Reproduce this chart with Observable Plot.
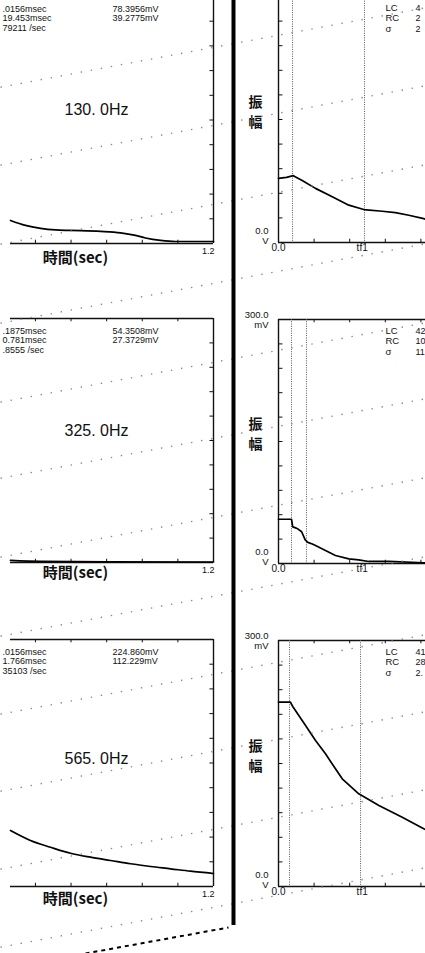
<!DOCTYPE html>
<html><head><meta charset="utf-8">
<script src="https://cdn.jsdelivr.net/npm/d3@7"></script>
<script src="https://cdn.jsdelivr.net/npm/@observablehq/plot@0.6"></script>
<style>
html,body{margin:0;padding:0;background:#fff;}
#page{position:relative;width:425px;height:953px;overflow:hidden;background:#fff;}
#page svg{position:absolute;max-width:none;}
</style></head><body><div id="page"></div>
<script>
// ---------- data ----------
const freqLabels = ["130. 0Hz", "325. 0Hz", "565. 0Hz"];
const paramTimes = [
  [".0156msec", "19.453msec", "79211 /sec"],
  [".1875msec", "0.781msec", ".8555 /sec"],
  [".0156msec", "1.766msec", "35103 /sec"]
];
const paramVolts = [
  ["78.3956mV", "39.2775mV"],
  ["54.3508mV", "27.3729mV"],
  ["224.860mV", "112.229mV"]
];
const statNames = ["LC", "RC", "σ"];
const statValues = [["4", "2", "2"], ["42", "10", "11"], ["41", "28", "2."]];
const timeAxisTitle = "時間(sec)";
const ampAxisTitleChars = ["振", "幅"];
const leftEndTick = [1.2];
const leftXTicks = [0.2, 0.4, 0.6, 0.8, 1.0];
const rightXTicks = [0.2, 0.4, 0.6, 0.8];
const ampTicks = [30, 60, 90, 120, 150, 180, 210, 240, 270];
const rightXLabelValues = [0, 0.47];
const rightXLabelTexts = ["0.0", "tf1"];
const ampTopLabel = "300.0\nmV";
const ampZeroLabel = "0.0\nV";

// left panels: amplitude (mV) vs time
const l130Time = [0.06, 0.144, 0.229, 0.313, 0.397, 0.566, 0.678, 0.762, 0.818, 0.903, 0.987, 1.2];
const l130Amp  = [28, 22, 18.4, 16.5, 15.9, 14.7, 12.9, 9.8, 6.7, 3.7, 2.4, 2.4];
const l325Time = [0.06, 0.229, 0.6, 1.2];
const l325Amp  = [2.5, 1.3, 0.9, 0.6];
const l565Time = [0.06, 0.172, 0.285, 0.397, 0.509, 0.622, 0.734, 0.847, 0.959, 1.071, 1.184, 1.2];
const l565Amp  = [68, 55.9, 47.7, 40.4, 35.6, 31.6, 27.6, 24.3, 21.5, 18.6, 16.2, 15.8];
// right panels
const r130Time = [0, 0.045, 0.083, 0.133, 0.208, 0.302, 0.395, 0.479, 0.583, 0.657, 0.732, 0.816, 0.826];
const r130Amp  = [78.3, 79.5, 81.5, 75.6, 66, 55.7, 45.5, 40.2, 38.1, 36.5, 33.2, 29.1, 28.3];
const r325Time = [0, 0.073, 0.08, 0.1, 0.112, 0.13, 0.15, 0.165, 0.19, 0.208, 0.264, 0.32, 0.395, 0.45, 0.507, 0.62, 0.815, 0.826];
const r325Amp  = [54.4, 54.4, 45, 43.5, 42, 39, 29, 26, 24, 22.1, 16, 9.8, 5.7, 4.5, 2.5, 2.5, 0.9, 0.8];
const r565Time = [0, 0.067, 0.08, 0.114, 0.152, 0.208, 0.264, 0.32, 0.358, 0.451, 0.564, 0.695, 0.816, 0.826];
const r565Amp  = [224.9, 224.9, 219.5, 208.5, 196.3, 178, 161.8, 143.5, 131.3, 113, 98.8, 84.5, 70.4, 69.5];
const cursorTimes = [[0.079, 0.483], [0.073, 0.157], [0.062, 0.461]];
// scan guide lines (dotted, page space): intercepts at x=20
const guideIntercepts = [83, 161, 240, 319, 398, 474, 553, 632, 710, 787, 865, 943];

// ---------- layout ----------
const page = document.getElementById("page");
const font = "'Liberation Sans Narrow','Liberation Sans',sans-serif";
const leftTops = [-4, 318, 639], leftBases = [243, 562, 886];
const rightTops = [-4, 319, 640], rightBases = [242, 563, 886];
const leftCurves = [[l130Time, l130Amp], [l325Time, l325Amp], [l565Time, l565Amp]]
  .map(([t, a]) => t.map((x, i) => ({t: x, v: a[i]})));
const rightCurves = [[r130Time, r130Amp], [r325Time, r325Amp], [r565Time, r565Amp]]
  .map(([t, a]) => t.map((x, i) => ({t: x, v: a[i]})));
const ink = "#111";

function place(svg, left, top) {
  svg.style.left = left + "px";
  svg.style.top = top + "px";
  page.appendChild(svg);
}

for (let i = 0; i < 3; i++) {
  const mt = 40, mb = 40;
  const h = leftBases[i] - leftTops[i];
  const p = Plot.plot({
    width: 216, height: h + mt + mb,
    marginLeft: 10, marginRight: 3, marginTop: mt, marginBottom: mb,
    x: {domain: [0.06, 1.2], axis: null, label: null},
    y: {domain: [0, 300], axis: null, label: null},
    style: {background: "transparent", fontFamily: font, color: ink, overflow: "visible"},
    marks: [
      Plot.ruleY([0, 300], {stroke: ink, strokeWidth: 1.4}),
      Plot.ruleX(leftEndTick, {stroke: ink, strokeWidth: 1.4}),
      Plot.ruleX(leftXTicks, {y1: 0, y2: 4, stroke: ink}),
      Plot.ruleX(leftXTicks, {y1: 296, y2: 300, stroke: ink}),
      Plot.ruleY(ampTicks, {x1: 1.18, x2: 1.2, stroke: ink}),
      Plot.line(leftCurves[i], {x: "t", y: "v", stroke: "#000", strokeWidth: 1.7, curve: "monotone-x"}),
      Plot.axisX(leftEndTick, {anchor: "bottom", label: null, tickSize: 0, tickPadding: 4, textAnchor: "end", fontSize: 9, dx: 1}),
      Plot.text([paramTimes[i].join("\n")], {text: d => d, frameAnchor: "top-left", lineAnchor: "top", textAnchor: "start", dx: -8, dy: 8, fontSize: 9, lineHeight: 1.1, fill: ink}),
      Plot.text([paramVolts[i].join("\n")], {text: d => d, frameAnchor: "top-left", lineAnchor: "top", textAnchor: "start", dx: 102, dy: 8, fontSize: 9, lineHeight: 1.1, fill: ink}),
      Plot.text([freqLabels[i]], {text: d => d, frameAnchor: "top-left", textAnchor: "middle", dx: 86, dy: [107, 106, 113][i], fontSize: 16, fontFamily: "'Liberation Sans',sans-serif", fill: ink}),
      Plot.text([timeAxisTitle], {text: d => d, frameAnchor: "bottom-left", textAnchor: "middle", dx: 65, dy: [19, 15, 17][i], fontSize: 15, fontWeight: "bold", fontFamily: "'Noto Sans CJK JP',sans-serif", fill: ink})
    ]
  });
  place(p, 0, leftTops[i] - mt);
}

for (let i = 0; i < 3; i++) {
  const mt = 40, mb = 40;
  const h = rightBases[i] - rightTops[i];
  const marks = [
    Plot.ruleY([0, 300], {stroke: ink, strokeWidth: 1.4}),
    Plot.ruleX([0], {stroke: ink, strokeWidth: 1.4}),
    Plot.ruleX(rightXTicks, {y1: 0, y2: 4, stroke: ink}),
    Plot.ruleX(rightXTicks, {y1: 296, y2: 300, stroke: ink}),
    Plot.ruleY(ampTicks, {x1: 0, x2: 0.025, stroke: ink}),
    Plot.ruleX(cursorTimes[i], {stroke: "#555", strokeWidth: 1, strokeDasharray: "1,1.3"}),
    Plot.line(rightCurves[i], {x: "t", y: "v", stroke: "#000", strokeWidth: 1.7}),
    Plot.text(rightXLabelValues, {x: d => d, text: (d, j) => rightXLabelTexts[j], frameAnchor: "bottom", textAnchor: (d, j) => j === 0 ? "start" : "middle", dy: 8, fontSize: 10, fill: ink}),
    Plot.text([ampZeroLabel], {text: d => d, x: 0, y: 0, lineAnchor: "bottom", textAnchor: "end", dx: -10, dy: 1, fontSize: 9.5, lineHeight: 1.05, fill: ink}),
    Plot.text(ampAxisTitleChars, {text: d => d, x: 0, y: (d, j) => j === 0 ? 171 : 146, textAnchor: "middle", dx: -23, fontSize: 14, fontWeight: "bold", fontFamily: "'Noto Sans CJK JP',sans-serif", fill: ink}),
    Plot.text([statNames.join("\n")], {text: d => d, frameAnchor: "top-left", lineAnchor: "top", textAnchor: "start", dx: 107, dy: 7, fontSize: 9.5, lineHeight: 1.1, fill: ink}),
    Plot.text([statValues[i].join("\n")], {text: d => d, frameAnchor: "top-left", lineAnchor: "top", textAnchor: "start", dx: 137, dy: 7, fontSize: 9, lineHeight: 1.15, fill: ink})
  ];
  if (i > 0) marks.push(Plot.text([ampTopLabel], {text: d => d, x: 0, y: 300, lineAnchor: "middle", textAnchor: "end", dx: -10, dy: 0, fontSize: 9.5, lineHeight: 1.05, fill: ink}));
  const p = Plot.plot({
    width: 190, height: h + mt + mb,
    marginLeft: 43, marginRight: 0, marginTop: mt, marginBottom: mb,
    x: {domain: [0, 147 / 178], axis: null, label: null},
    y: {domain: [0, 300], axis: null, label: null},
    style: {background: "transparent", fontFamily: font, color: ink, overflow: "visible"},
    marks
  });
  place(p, 235, rightTops[i] - mt);
}

// background scan artefacts: dotted guides, divider, dashed stroke
const slope = -0.187;
const bg = Plot.plot({
  width: 425, height: 953, margin: 0,
  x: {domain: [0, 425], axis: null},
  y: {domain: [0, 953], reverse: true, axis: null},
  style: {background: "transparent"},
  marks: [
    Plot.link(guideIntercepts, {x1: 0, x2: 425, y1: d => d + slope * (0 - 20), y2: d => d + slope * (425 - 20), stroke: "#888", strokeWidth: 1.3, strokeDasharray: "1.4,8.8"}),
    Plot.ruleX([233], {y1: 0, y2: 925, stroke: "#000", strokeWidth: 4}),
    Plot.link([{a: 85, b: 953, c: 228, d: 927}], {x1: "a", y1: "b", x2: "c", y2: "d", stroke: "#000", strokeWidth: 2, strokeDasharray: "4,4"})
  ]
});
place(bg, 0, 0);
</script></body></html>
